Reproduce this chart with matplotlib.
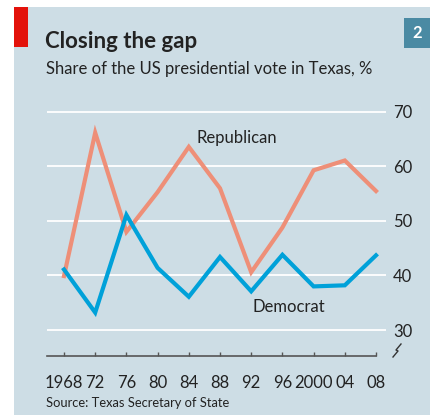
import matplotlib.pyplot as plt
from matplotlib.patches import Rectangle
from matplotlib.lines import Line2D

years = [1968, 1972, 1976, 1980, 1984, 1988, 1992, 1996, 2000, 2004, 2008]
year_labels = ['1968', '72', '76', '80', '84', '88', '92', '96', '2000', '04', '08']
republican = [39.9, 66.2, 48.0, 55.3, 63.6, 56.0, 40.6, 48.8, 59.3, 61.1, 55.5]
democrat = [41.1, 33.2, 51.1, 41.4, 36.1, 43.4, 37.1, 43.8, 38.0, 38.2, 43.7]
y_ticks = [30, 40, 50, 60, 70]

BG = '#cddde5'
RED = '#e3120b'
REP = '#ee8f78'
DEM = '#00a1d9'
TXT = '#222222'
FONT = 'Lato'

W, H = 430, 415
fig = plt.figure(figsize=(W / 100, H / 100), dpi=100)
fig.patch.set_facecolor('white')


def fx(px):
    return px / W


def fy(py):
    return 1 - py / H


# panel background, red tag, number box
fig.patches.append(Rectangle((fx(14), 0), 1 - fx(14), fy(7), transform=fig.transFigure,
                             facecolor=BG, edgecolor='none', zorder=0))
fig.patches.append(Rectangle((fx(14), fy(47)), fx(28) - fx(14), fy(7) - fy(47),
                             transform=fig.transFigure, facecolor=RED, edgecolor='none', zorder=1))
fig.patches.append(Rectangle((fx(404), fy(48)), 1 - fx(404), fy(18) - fy(48),
                             transform=fig.transFigure, facecolor='#4a8aa3', edgecolor='none', zorder=1))
fig.text(fx(417), fy(33), '2', color='white', fontsize=12, fontweight='bold',
         family=FONT, ha='center', va='center')

fig.text(fx(45), fy(48), 'Closing the gap', fontsize=16, fontweight='bold',
         color=TXT, family=FONT, va='baseline')
fig.text(fx(46), fy(74), 'Share of the US presidential vote in Texas, %', fontsize=12,
         color=TXT, family=FONT, va='baseline')
fig.text(fx(46), fy(407), 'Source: Texas Secretary of State', fontsize=9.3,
         color=TXT, family=FONT, va='baseline')

ax = fig.add_axes([fx(47), fy(356), fx(386) - fx(47), fy(100) - fy(356)])
ax.set_zorder(3)
ax.set_facecolor('none')
ax.set_xlim(1965.82, 2009.28)
ax.set_ylim(25.23, 72.2)

for v in y_ticks:
    ax.axhline(v, color='white', lw=1.3, zorder=1)

ax.plot(years, republican, color=REP, lw=3.0, zorder=3, solid_joinstyle='miter')
ax.plot(years, democrat, color=DEM, lw=3.0, zorder=3, solid_joinstyle='miter')

ax.text(1985.05, 65.2, 'Republican', fontsize=12, color=TXT, family=FONT, va='center')
ax.text(1992.2, 34.2, 'Democrat', fontsize=12, color=TXT, family=FONT, va='center')

for s in ['top', 'left', 'right']:
    ax.spines[s].set_visible(False)
ax.spines['bottom'].set_bounds(1965.82, 2008)
ax.spines['bottom'].set_color('#555555')
ax.spines['bottom'].set_linewidth(1.2)

ax.set_xticks(years)
ax.set_xticklabels(year_labels)
ax.set_xticks(years[::2], minor=True)
ax.tick_params(axis='x', which='major', direction='in', length=3, width=1, color='#555555',
               pad=14, labelsize=12, labelcolor=TXT)
ax.tick_params(axis='x', which='minor', direction='in', length=6, width=1, color='#555555')
for lab in ax.get_xticklabels():
    lab.set_family(FONT)

ax.yaxis.tick_right()
ax.set_yticks(y_ticks)
ax.tick_params(axis='y', length=0, pad=5, labelsize=12, labelcolor=TXT)
for lab in ax.get_yticklabels():
    lab.set_family(FONT)

# axis break mark
fig.add_artist(Line2D([fx(393), fx(398), fx(396), fx(401)],
                      [fy(357), fy(351), fy(350), fy(344)],
                      transform=fig.transFigure, color='#333333', lw=1, zorder=4))

fig.savefig('out.png', dpi=100)
